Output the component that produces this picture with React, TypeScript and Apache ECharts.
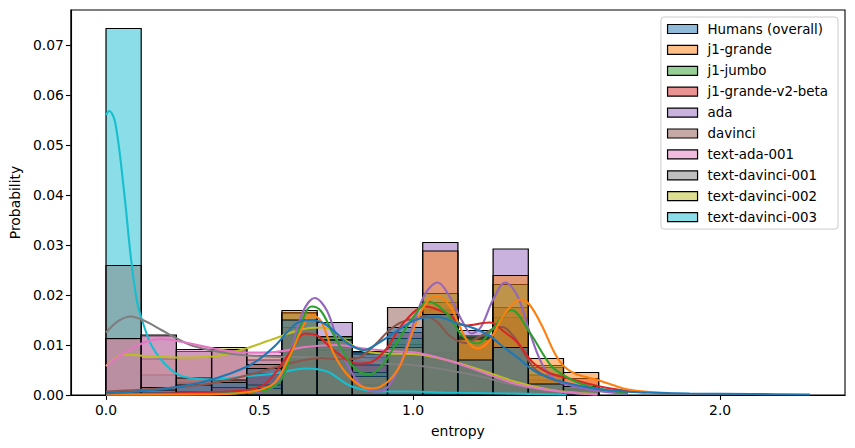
import React, { useEffect, useRef } from "react";
import * as echarts from "echarts";

const SERIES_NAMES = [
  "Humans (overall)",
  "j1-grande",
  "j1-jumbo",
  "j1-grande-v2-beta",
  "ada",
  "davinci",
  "text-ada-001",
  "text-davinci-001",
  "text-davinci-002",
  "text-davinci-003",
];

const COLORS = [
  "#1f77b4", "#ff7f0e", "#2ca02c", "#d62728", "#9467bd",
  "#8c564b", "#e377c2", "#7f7f7f", "#bcbd22", "#17becf",
];

const BIN_EDGES = [
  0, 0.1146, 0.2292, 0.3438, 0.4584, 0.573, 0.6876, 0.8022, 0.9168,
  1.0314, 1.146, 1.2606, 1.3752, 1.4898, 1.6044,
];

const X_TICKS = [0, 0.5, 1.0, 1.5, 2.0];
const Y_TICKS = [0, 0.01, 0.02, 0.03, 0.04, 0.05, 0.06, 0.07];

// histogram bar heights (probability) per bin
const HUMANS_BARS = [0.0003, 0.001, 0.002, 0.0025, 0.0053, 0.015, 0.011, 0.0087, 0.0135, 0.0161, 0.007, 0.0095, 0.0022, 0.0017];
const J1_GRANDE_BARS = [0.0001, 0.0001, 0.0002, 0.0003, 0.0013, 0.0169, 0.011, 0.0037, 0.0095, 0.0288, 0.0112, 0.0239, 0.0073, 0.0045];
const J1_JUMBO_BARS = [0.0001, 0.0002, 0.0003, 0.0005, 0.002, 0.0165, 0.0117, 0.0045, 0.0113, 0.0203, 0.0118, 0.0221, 0.0059, 0.0017];
const J1_V2_BARS = [0.0002, 0.0004, 0.0006, 0.0015, 0.0042, 0.0135, 0.009, 0.006, 0.0125, 0.0185, 0.0115, 0.0175, 0.004, 0.0033];
const ADA_BARS = [0.0001, 0.0001, 0.0002, 0.0004, 0.001, 0.0163, 0.0145, 0.002, 0.0101, 0.0305, 0.0129, 0.0292, 0.0055, 0.001];
const DAVINCI_BARS = [0.0006, 0.0015, 0.0034, 0.003, 0.0061, 0.012, 0.0095, 0.0082, 0.0175, 0.017, 0.011, 0.0155, 0.003, 0.0012];
const TEXT_ADA_BARS = [0.0113, 0.012, 0.0091, 0.0091, 0.0085, 0.0085, 0.0085, 0.0082, 0.0081, 0.0082, 0.006, 0.003, 0.001, 0.0003];
const TD001_BARS = [0.0259, 0.0118, 0.0087, 0.0088, 0.007, 0.0078, 0.0078, 0.0075, 0.0077, 0.007, 0.005, 0.002, 0.0005, 0.0002];
const TD002_BARS = [0.0112, 0.0072, 0.0075, 0.0095, 0.0079, 0.012, 0.0115, 0.0085, 0.0081, 0.0085, 0.0055, 0.002, 0.0005, 0.0002];
const TD003_BARS = [0.0733, 0.004, 0.0024, 0.0027, 0.0033, 0.005, 0.003, 0.0016, 0.0008, 0.0008, 0.0005, 0.0002, 0.0001, 0.0001];

// KDE curves [entropy, probability]
const HUMANS_KDE = [[0,0.0003],[0.1,0.0007],[0.2,0.0013],[0.3,0.0024],[0.34,0.003],[0.4,0.0042],[0.46,0.0057],[0.5,0.0072],[0.55,0.0098],[0.62,0.0143],[0.67,0.015],[0.71,0.0143],[0.75,0.0124],[0.79,0.0102],[0.84,0.009],[0.89,0.0105],[0.94,0.0125],[1.0,0.0148],[1.04,0.0155],[1.08,0.0156],[1.14,0.0144],[1.2,0.0133],[1.25,0.0118],[1.29,0.0098],[1.34,0.0075],[1.39,0.005],[1.44,0.0035],[1.5,0.0024],[1.59,0.0013],[1.67,0.0008],[1.75,0.0005],[1.9,0.0003],[2.1,0.0002],[2.293,0.0001]];
const J1_GRANDE_KDE = [[0,0.0001],[0.3,0.0001],[0.42,0.0003],[0.5,0.001],[0.55,0.0025],[0.6,0.008],[0.64,0.0135],[0.67,0.016],[0.7,0.0148],[0.74,0.0085],[0.78,0.0045],[0.83,0.0018],[0.87,0.0013],[0.92,0.0028],[0.96,0.0062],[1.01,0.0145],[1.05,0.019],[1.08,0.0197],[1.12,0.0178],[1.15,0.014],[1.18,0.0105],[1.21,0.0093],[1.25,0.011],[1.29,0.0155],[1.33,0.0185],[1.35,0.0191],[1.38,0.018],[1.42,0.0138],[1.46,0.0085],[1.49,0.0058],[1.53,0.0042],[1.59,0.0032],[1.65,0.002],[1.7,0.0011],[1.77,0.0006],[1.834,0.0004]];
const J1_JUMBO_KDE = [[0,0.0001],[0.4,0.0003],[0.5,0.0008],[0.53,0.0012],[0.57,0.003],[0.61,0.0095],[0.65,0.0165],[0.67,0.0177],[0.7,0.0168],[0.74,0.0122],[0.79,0.0068],[0.83,0.0045],[0.86,0.0042],[0.9,0.006],[0.94,0.0098],[1.0,0.0155],[1.05,0.0187],[1.11,0.0163],[1.16,0.0119],[1.21,0.0103],[1.26,0.0133],[1.32,0.017],[1.38,0.0125],[1.45,0.0058],[1.5,0.0036],[1.54,0.0024],[1.6,0.0013],[1.7,0.0004]];
const J1_V2_KDE = [[0,0.0002],[0.2,0.0003],[0.35,0.0006],[0.46,0.001],[0.52,0.0023],[0.59,0.0077],[0.65,0.0123],[0.69,0.0118],[0.74,0.009],[0.82,0.0063],[0.86,0.0065],[0.91,0.009],[0.97,0.0145],[1.04,0.0177],[1.11,0.0163],[1.17,0.0139],[1.25,0.0145],[1.3,0.0125],[1.34,0.0105],[1.39,0.0065],[1.44,0.0045],[1.5,0.0034],[1.6,0.0018],[1.7,0.0008],[1.76,0.0005]];
const ADA_KDE = [[0,0.0001],[0.3,0.0002],[0.45,0.0005],[0.52,0.0009],[0.56,0.0025],[0.6,0.0085],[0.64,0.0165],[0.68,0.0194],[0.72,0.0168],[0.76,0.0097],[0.8,0.0045],[0.84,0.0015],[0.88,0.0007],[0.92,0.0017],[0.96,0.0065],[1.0,0.014],[1.04,0.0203],[1.08,0.0225],[1.12,0.0196],[1.16,0.0148],[1.19,0.0123],[1.22,0.0135],[1.26,0.019],[1.3,0.0225],[1.34,0.0198],[1.38,0.0125],[1.42,0.0062],[1.46,0.0032],[1.5,0.0021],[1.6,0.0008],[1.7,0.0002]];
const DAVINCI_KDE = [[0,0.0007],[0.2,0.0014],[0.34,0.0023],[0.45,0.0038],[0.55,0.0055],[0.63,0.0068],[0.7,0.0074],[0.76,0.0072],[0.81,0.0072],[0.87,0.0097],[0.92,0.0128],[0.96,0.0145],[1.01,0.0154],[1.04,0.0158],[1.08,0.0145],[1.12,0.0118],[1.17,0.0104],[1.22,0.0118],[1.26,0.0132],[1.29,0.0136],[1.33,0.0115],[1.37,0.0075],[1.4,0.005],[1.46,0.003],[1.52,0.002],[1.6,0.001],[1.7,0.0003]];
const TEXT_ADA_KDE = [[0,0.0058],[0.06,0.0084],[0.12,0.0104],[0.18,0.0112],[0.25,0.0106],[0.35,0.0093],[0.45,0.0085],[0.55,0.0086],[0.65,0.0096],[0.75,0.01],[0.85,0.0092],[0.95,0.0087],[1.01,0.0085],[1.11,0.007],[1.22,0.0047],[1.33,0.0023],[1.44,0.001],[1.54,0.0003],[1.6,0.0001]];
const TD001_KDE = [[0,0.0125],[0.04,0.0148],[0.08,0.0157],[0.13,0.0147],[0.18,0.013],[0.24,0.011],[0.29,0.0097],[0.4,0.0083],[0.49,0.0078],[0.6,0.0076],[0.7,0.0075],[0.85,0.007],[0.9,0.0063],[1.0,0.006],[1.11,0.005],[1.22,0.0037],[1.33,0.002],[1.44,0.0009],[1.54,0.0003],[1.6,0.0001]];
const TD002_KDE = [[0,0.0058],[0.06,0.0081],[0.13,0.0078],[0.24,0.0075],[0.35,0.0077],[0.44,0.009],[0.55,0.0113],[0.65,0.0133],[0.71,0.0135],[0.77,0.0113],[0.83,0.009],[0.9,0.0083],[1.0,0.0082],[1.11,0.007],[1.22,0.005],[1.33,0.0027],[1.44,0.0011],[1.54,0.0004],[1.6,0.0002]];
const TD003_KDE = [[0,0.056],[0.01,0.0568],[0.03,0.0545],[0.06,0.04],[0.08,0.028],[0.1,0.019],[0.12,0.0145],[0.15,0.0097],[0.2,0.0057],[0.25,0.0037],[0.35,0.0031],[0.45,0.0037],[0.55,0.0043],[0.65,0.0053],[0.72,0.0047],[0.8,0.0017],[0.9,0.0007],[1.0,0.0007],[1.1,0.0005],[1.3,0.0003],[1.5,0.0001]];

const BARS = [HUMANS_BARS, J1_GRANDE_BARS, J1_JUMBO_BARS, J1_V2_BARS, ADA_BARS, DAVINCI_BARS, TEXT_ADA_BARS, TD001_BARS, TD002_BARS, TD003_BARS];
const KDES = [HUMANS_KDE, J1_GRANDE_KDE, J1_JUMBO_KDE, J1_V2_KDE, ADA_KDE, DAVINCI_KDE, TEXT_ADA_KDE, TD001_KDE, TD002_KDE, TD003_KDE];

function rgba(hex: string, a: number) {
  const r = parseInt(hex.slice(1, 3), 16);
  const g = parseInt(hex.slice(3, 5), 16);
  const b = parseInt(hex.slice(5, 7), 16);
  return `rgba(${r},${g},${b},${a})`;
}

const FONT = "DejaVu Sans";

export default function App() {
  const ref = useRef<HTMLDivElement>(null);
  useEffect(() => {
    if (!ref.current) return;
    const chart = echarts.init(ref.current, undefined, { renderer: "svg" });
    const order = SERIES_NAMES.map((_, i) => i).reverse();
    const barSeries: any[] = order.map((i) => {
      const fill = rgba(COLORS[i], 0.5);
      return {
        type: "custom",
        name: SERIES_NAMES[i],
        z: 2,
        silent: true,
        clip: true,
        encode: { x: [0, 1], y: 2 },
        data: BARS[i].map((v, k) => [BIN_EDGES[k], BIN_EDGES[k + 1], v]),
        renderItem: (params: any, api: any) => {
          const a = api.coord([api.value(0), 0]);
          const b = api.coord([api.value(1), api.value(2)]);
          return {
            type: "rect",
            shape: { x: a[0], y: b[1], width: b[0] - a[0], height: a[1] - b[1] },
            style: { fill, stroke: "#000", lineWidth: 1.2 },
          };
        },
      };
    });
    const lineSeries: any[] = order.map((i) => ({
      type: "line",
      name: SERIES_NAMES[i] + " kde",
      z: 3,
      silent: true,
      data: KDES[i],
      smooth: 0.35,
      symbol: "none",
      showSymbol: false,
      lineStyle: { color: COLORS[i], width: 2.1 },
      itemStyle: { color: COLORS[i] },
    }));
    chart.setOption({
      animation: false,
      grid: {
        left: 70, right: 10, top: 10, bottom: 53,
        show: true, borderColor: "#000", borderWidth: 1.1, backgroundColor: "transparent",
      },
      legend: {
        orient: "vertical",
        right: 17,
        top: 17,
        padding: [5, 10, 5, 6],
        itemWidth: 30,
        itemHeight: 9,
        itemGap: 6.9,
        selectedMode: false,
        backgroundColor: "rgba(255,255,255,0.8)",
        borderColor: "#cccccc",
        borderWidth: 1,
        borderRadius: 3,
        formatter: "{t|{name}}",
        textStyle: {
          fontFamily: FONT, fontSize: 13.4, color: "#000", lineHeight: 14,
          rich: { t: { fontFamily: FONT, fontSize: 13.4, color: "#000", lineHeight: 14, padding: [0, 0, 0, 5] } },
        },
        data: SERIES_NAMES.map((n, i) => ({
          name: n,
          icon: "rect",
          itemStyle: { color: rgba(COLORS[i], 0.5), borderColor: "#000", borderWidth: 1.2 },
        })),
      },
      xAxis: {
        type: "value",
        min: -0.1146,
        max: 2.4066,
        name: "entropy",
        nameLocation: "middle",
        nameGap: 29,
        nameTextStyle: { fontFamily: FONT, fontSize: 13.9, color: "#000" },
        splitLine: { show: false },
        axisLine: { show: true, onZero: false, lineStyle: { color: "#000", width: 1.1 } },
        axisTick: { show: true, length: 4.9, lineStyle: { color: "#000", width: 1.1 }, customValues: X_TICKS },
        axisLabel: {
          customValues: X_TICKS,
          margin: 8,
          fontFamily: FONT, fontSize: 13.9, color: "#000",
          formatter: (v: number) => v.toFixed(1),
        },
      },
      yAxis: {
        type: "value",
        min: 0,
        max: 0.077,
        name: "Probability",
        nameLocation: "middle",
        nameGap: 46,
        nameTextStyle: { fontFamily: FONT, fontSize: 13.9, color: "#000" },
        splitLine: { show: false },
        axisLine: { show: true, onZero: false, lineStyle: { color: "#000", width: 1.1 } },
        axisTick: { show: true, length: 4.9, lineStyle: { color: "#000", width: 1.1 }, customValues: Y_TICKS },
        axisLabel: {
          customValues: Y_TICKS,
          margin: 7,
          fontFamily: FONT, fontSize: 13.9, color: "#000",
          formatter: (v: number) => v.toFixed(2),
        },
      },
      series: [...barSeries, ...lineSeries],
    });
    return () => chart.dispose();
  }, []);
  return <div ref={ref} style={{ width: 855, height: 448, margin: -8 }} />;
}
